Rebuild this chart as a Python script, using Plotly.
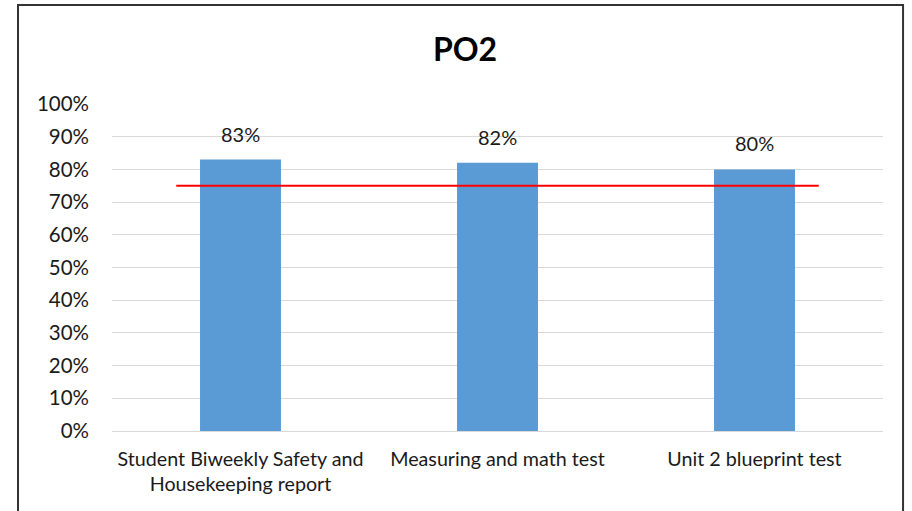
import plotly.graph_objects as go

categories = ["Student Biweekly Safety and<br>Housekeeping report", "Measuring and math test", "Unit 2 blueprint test"]
values = [0.83, 0.82, 0.80]
labels = ["83%", "82%", "80%"]
threshold = 0.75
y_ticks = [i / 10 for i in range(11)]
y_tick_labels = [f"{i*10}%" for i in range(11)]

FONT = "Lato, 'Open Sans', sans-serif"

fig = go.Figure()
fig.add_trace(go.Bar(
    x=categories, y=values, marker=dict(color="#5B9BD5", line=dict(width=0)),
    width=0.315, showlegend=False, hoverinfo="skip",
))
for c, v, t in zip(categories, values, labels):
    fig.add_annotation(x=c, y=v, text=t, showarrow=False, yshift=26,
                       font=dict(size=20, color="#1a1a1a", family=FONT))

fig.add_shape(type="line", xref="x", yref="y", x0=-0.25, x1=len(categories) - 0.75,
              y0=threshold, y1=threshold, line=dict(color="#FF0000", width=2))

# chart border
fig.add_shape(type="rect", xref="paper", yref="paper", x0=-0.1219, x1=1.026,
              y0=-0.35, y1=1.303, line=dict(color="#333333", width=2), layer="below")

fig.update_layout(
    width=912, height=511,
    margin=dict(l=112, r=29, t=104, b=80),
    paper_bgcolor="white", plot_bgcolor="white",
    title=dict(text="<b>PO2</b>", x=465 / 912, xref="container", xanchor="center",
               y=1 - 50 / 511, yref="container", yanchor="middle",
               font=dict(size=32, color="#000", family=FONT)),
    font=dict(family=FONT, size=19.7, color="#1a1a1a"),
    xaxis=dict(showgrid=False, showline=True, linecolor="#D9D9D9", linewidth=1,
               ticks="", tickfont=dict(size=19.7, color="#1a1a1a"), ticklabelstandoff=10,
               range=[-0.5, 2.5], automargin=False, fixedrange=True),
    yaxis=dict(range=[0, 1.0], tickvals=y_ticks, ticktext=y_tick_labels,
               showgrid=True, gridcolor="#D9D9D9", gridwidth=1, zeroline=False,
               showline=False, ticks="", tickfont=dict(size=20.5, color="#1a1a1a"),
               ticklabelstandoff=22, automargin=False, fixedrange=True),
    bargap=0.685,
)

fig.write_html("out.html", config={"displayModeBar": False, "staticPlot": True},
               post_script="document.body.style.margin='0';document.body.style.overflow='hidden';")
